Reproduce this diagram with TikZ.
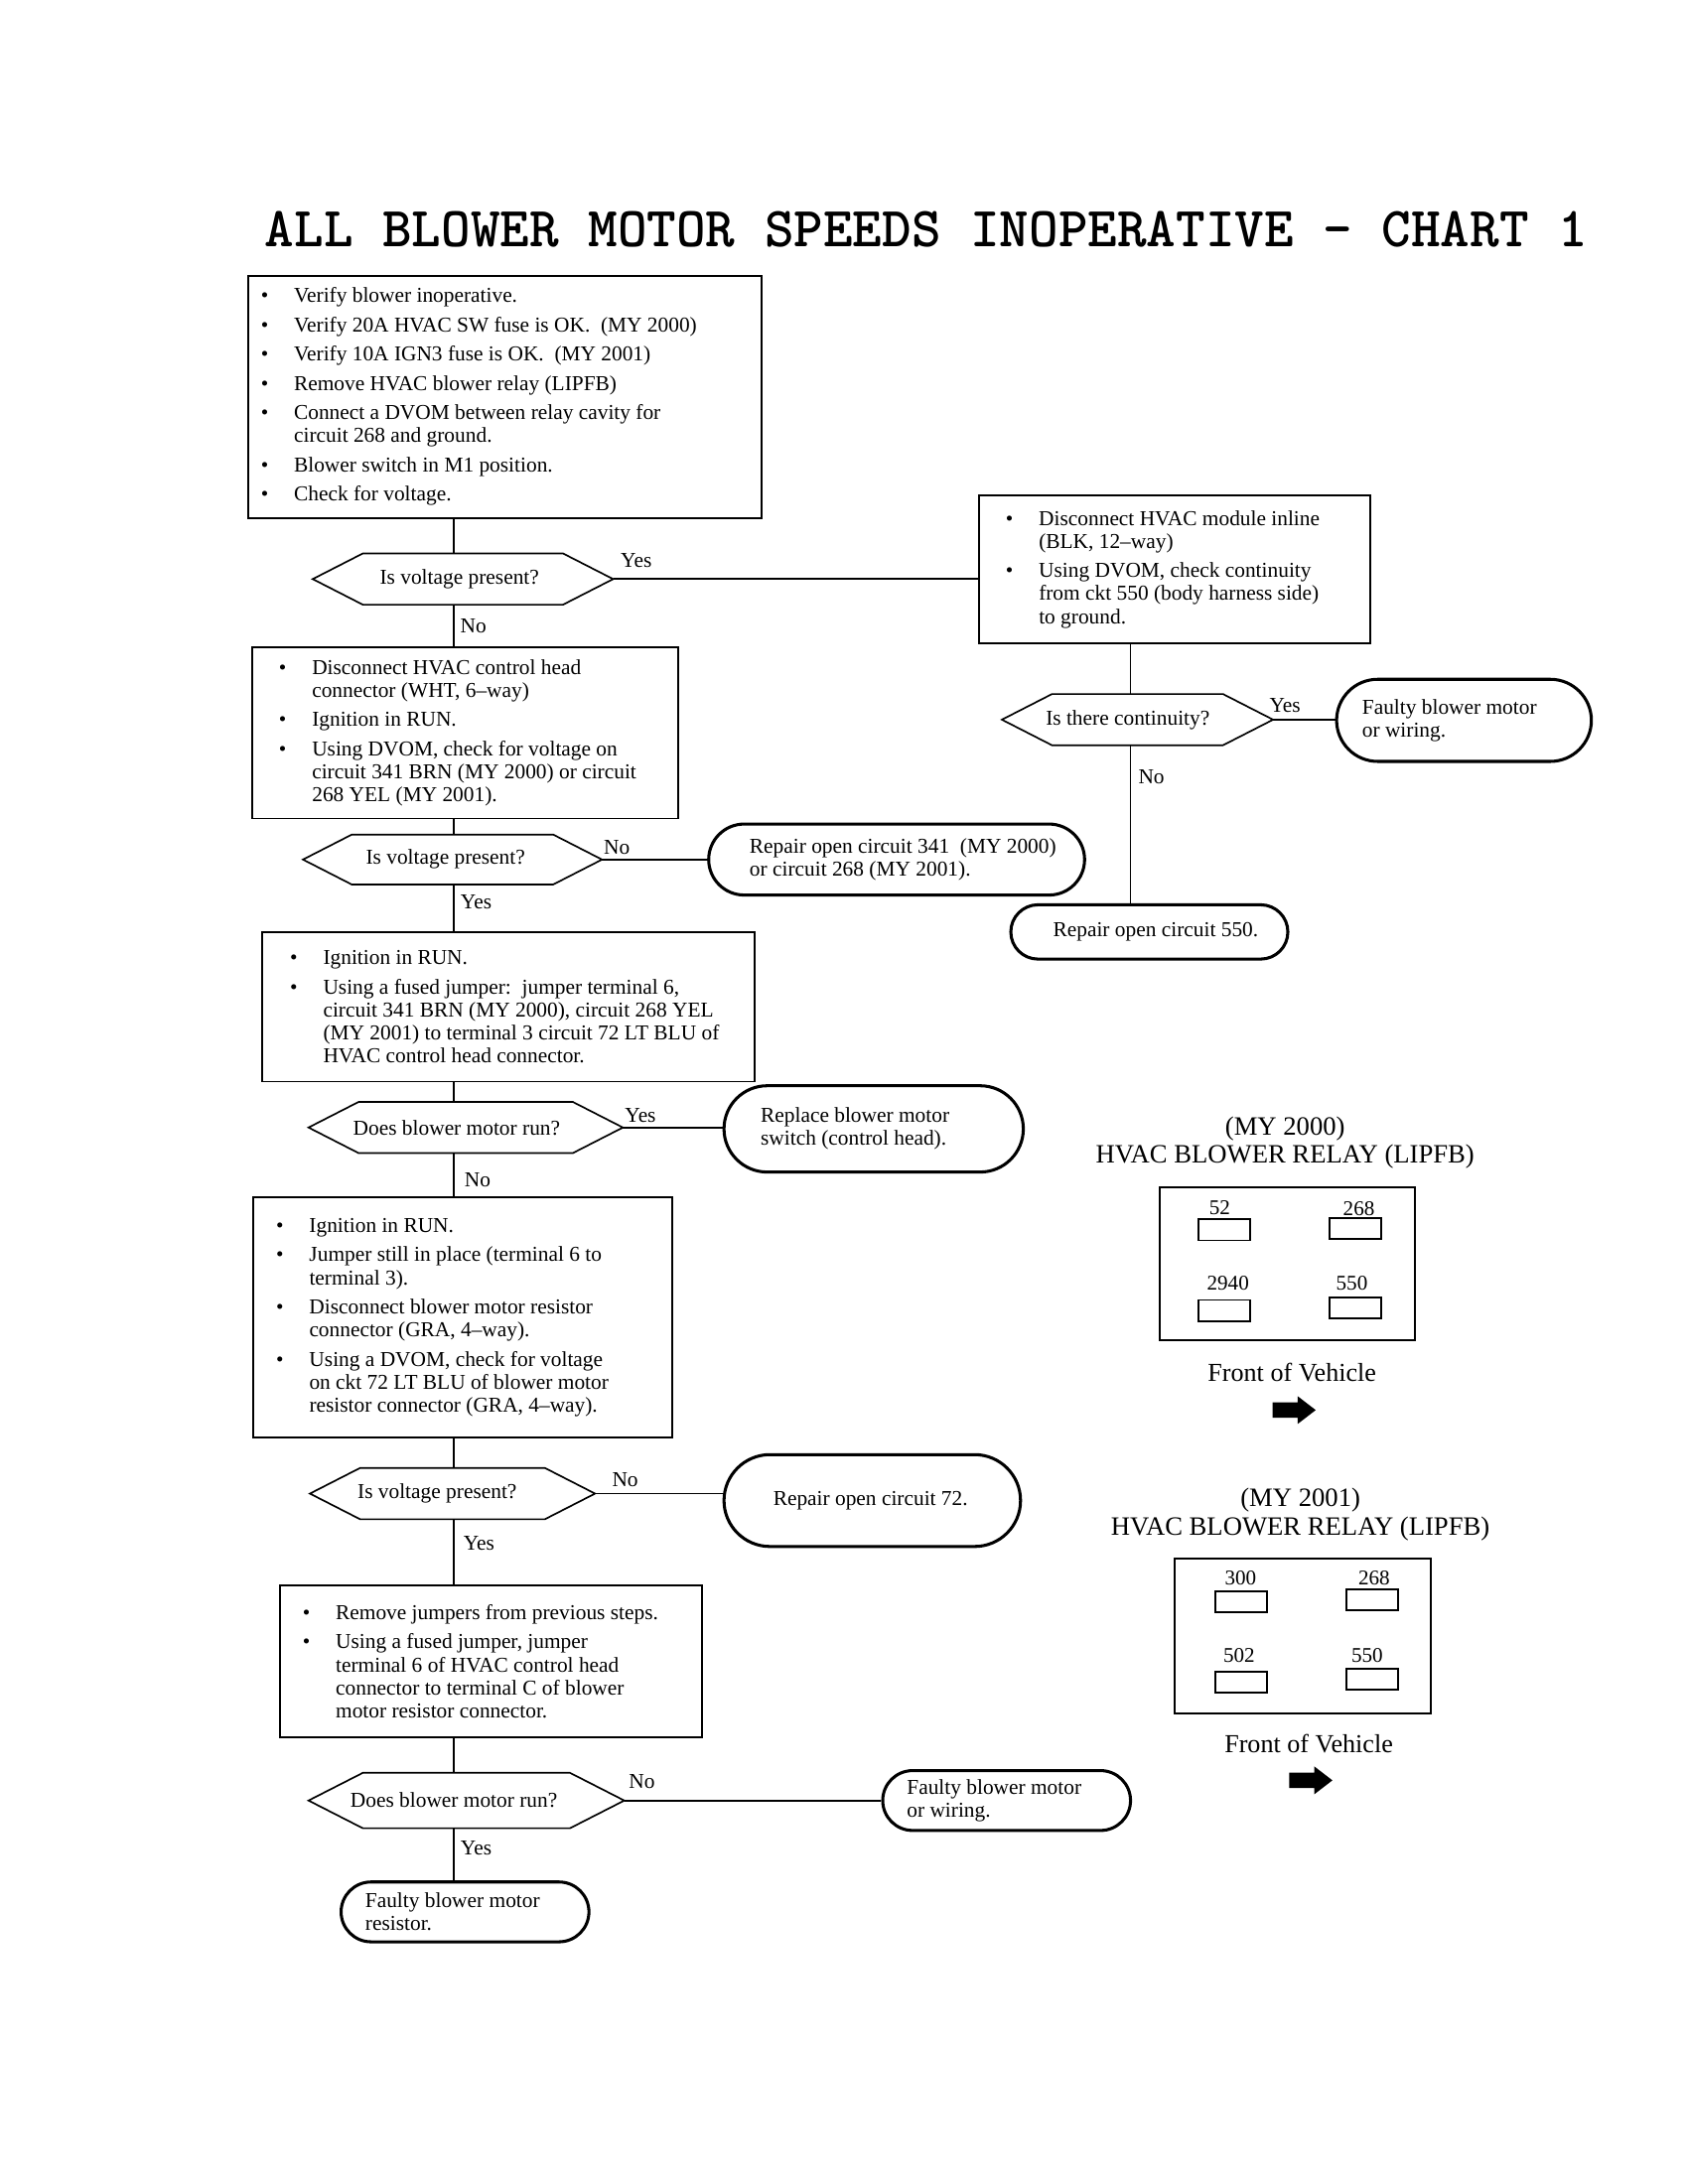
\documentclass[tikz,border=0pt]{standalone}
\usepackage{graphicx}
\usepackage{fontspec}
\setmainfont{Liberation Serif}
\usetikzlibrary{calc}
\newcommand\myu{0.505pt}
\newcommand\bi{\makebox[12pt][l]{\textbullet}}
\newcommand\ci{\hspace*{12pt}}
\newcommand\ig{2.3pt}
\tikzset{
  box/.style={draw, line width=0.7pt, inner sep=0pt},
  term/.style={draw, line width=1.1pt, inner sep=0pt},
  hold/.style={inner sep=0pt},
  decl/.style={draw, line width=0.6pt, line join=miter},
  conn/.style={line width=0.6pt},
  txt/.style={inner sep=0pt, align=left, font=\fontsize{7.7}{8.33}\selectfont},
  lbl/.style={inner sep=0pt, font=\fontsize{7.7}{8.33}\selectfont},
  rtitle/.style={inner sep=0pt, align=center, font=\fontsize{9.6}{10.1}\selectfont},
  fov/.style={inner sep=0pt, font=\fontsize{9.4}{10}\selectfont},
  slot/.style={draw, line width=0.6pt, inner sep=0pt, minimum width={37*\myu}, minimum height={15*\myu}},
  num/.style={inner sep=0pt, font=\fontsize{7.6}{8}\selectfont},
}
\newcommand\pbox[7]{%
  \node[box, minimum width={(#4-#2)*\myu}, minimum height={(#5-#3)*\myu}] (#1) at ({(#2+#4)/2},{(#3+#5)/2}) {};
  \node[txt, anchor=west] (#1t) at (#6,{(#3+#5)/2}) {#7};}
\newcommand\pterm[7]{%
  \node[term, minimum width={(#4-#2)*\myu}, minimum height={(#5-#3)*\myu}, rounded corners={(#5-#3)/2*\myu}] (#1) at ({(#2+#4)/2},{(#3+#5)/2}) {};
  \node[txt, anchor=west] (#1t) at (#6,{(#3+#5)/2}) {#7};}
\newcommand\pdec[7]{%
  \node[hold, minimum width={(#4-#2)*\myu}, minimum height={(#5-#3)*\myu}] (#1) at ({(#2+#4)/2},{(#3+#5)/2}) {};
  \draw[decl] (#1.west) -- ($(#1.north west)+({#5-#3},0)$) -- ($(#1.north east)-({#5-#3},0)$) -- (#1.east) -- ($(#1.south east)-({#5-#3},0)$) -- ($(#1.south west)+({#5-#3},0)$) -- cycle;
  \node[lbl] (#1t) at (#6,{(#3+#5)/2}) {#7};}
\begin{document}
\begin{tikzpicture}[x=0.505pt, y=-0.505pt]
\useasboundingbox (0,0) rectangle (1212,1569);
\coordinate (cL) at (326,0);
\coordinate (cR) at (812,0);

% title
\node[anchor=base west, inner sep=0pt] (title) at (190,177) {\resizebox{479.7pt}{12.8pt}{\ttfamily\bfseries ALL BLOWER MOTOR SPEEDS INOPERATIVE – CHART 1}};

% left column
\pbox{b1}{178}{198}{547}{372}{187}{%
\bi Verify blower inoperative.\\[\ig]
\bi Verify 20A HVAC SW fuse is OK.\ \ (MY 2000)\\[\ig]
\bi Verify 10A IGN3 fuse is OK.\ \ (MY 2001)\\[\ig]
\bi Remove HVAC blower relay (LIPFB)\\[\ig]
\bi Connect a DVOM between relay cavity for\\
\ci circuit 268 and ground.\\[\ig]
\bi Blower switch in M1 position.\\[\ig]
\bi Check for voltage.}
\pdec{d1}{225}{398}{440}{434}{330}{Is voltage present?}
\draw[conn] (b1.south -| cL) -- (d1.north -| cL);
\node[lbl] (y1) at (457,403) {Yes};

\pbox{r1}{703}{356}{984}{462}{722}{%
\bi Disconnect HVAC module inline\\
\ci (BLK, 12--way)\\[\ig]
\bi Using DVOM, check continuity\\
\ci from ckt 550 (body harness side)\\
\ci to ground.}
\draw[conn] (d1.east) -- (d1.east -| r1.west);

\node[lbl] (n1) at (340,450) {No};
\pbox{b2}{181}{465}{487}{588}{200}{%
\bi Disconnect HVAC control head\\
\ci connector (WHT, 6--way)\\[\ig]
\bi Ignition in RUN.\\[\ig]
\bi Using DVOM, check for voltage on\\
\ci circuit 341 BRN (MY 2000) or circuit\\
\ci 268 YEL (MY 2001).}
\draw[conn] (d1.south -| cL) -- (b2.north -| cL);

\pdec{d2}{218}{600}{432}{635}{320}{Is voltage present?}
\draw[conn] (b2.south -| cL) -- (d2.north -| cL);
\node[lbl] (n2) at (443,609) {No};
\pterm{t1}{509}{592}{779}{643}{538}{Repair open circuit 341\ \ (MY 2000)\\or circuit 268 (MY 2001).}
\draw[conn] (d2.east) -- (d2.east -| t1.west);
\node[lbl] (y2) at (342,648) {Yes};

\pbox{b3}{188}{670}{542}{777}{208}{%
\bi Ignition in RUN.\\[\ig]
\bi Using a fused jumper:\ \ jumper terminal 6,\\
\ci circuit 341 BRN (MY 2000), circuit 268 YEL\\
\ci (MY 2001) to terminal 3 circuit 72 LT BLU of\\
\ci HVAC control head connector.}
\draw[conn] (d2.south -| cL) -- (b3.north -| cL);

\pdec{d3}{222}{792}{447}{828}{328}{Does blower motor run?}
\draw[conn] (b3.south -| cL) -- (d3.north -| cL);
\node[lbl] (y3) at (460,801) {Yes};
\pterm{t2}{520}{780}{735}{842}{546}{Replace blower motor\\switch (control head).}
\draw[conn] (d3.east) -- (d3.east -| t2.west);
\node[lbl] (n3) at (343,848) {No};

\pbox{b4}{182}{860}{483}{1033}{198}{%
\bi Ignition in RUN.\\[\ig]
\bi Jumper still in place (terminal 6 to\\
\ci terminal 3).\\[\ig]
\bi Disconnect blower motor resistor\\
\ci connector (GRA, 4--way).\\[\ig]
\bi Using a DVOM, check for voltage\\
\ci on ckt 72 LT BLU of blower motor\\
\ci resistor connector (GRA, 4--way).}
\draw[conn] (d3.south -| cL) -- (b4.north -| cL);

\pdec{d4}{223}{1055}{427}{1091}{314}{Is voltage present?}
\draw[conn] (b4.south -| cL) -- (d4.north -| cL);
\node[lbl] (n4) at (449,1063) {No};
\pterm{t3}{520}{1045}{733}{1111}{555}{Repair open circuit 72.}
\draw[conn] (d4.east) -- (d4.east -| t3.west);
\node[lbl] (y4) at (344,1109) {Yes};

\pbox{b5}{201}{1139}{504}{1248}{217}{%
\bi Remove jumpers from previous steps.\\[\ig]
\bi Using a fused jumper, jumper\\
\ci terminal 6 of HVAC control head\\
\ci connector to terminal C of blower\\
\ci motor resistor connector.}
\draw[conn] (d4.south -| cL) -- (b5.north -| cL);

\pdec{d5}{222}{1274}{448}{1313}{326}{Does blower motor run?}
\draw[conn] (b5.south -| cL) -- (d5.north -| cL);
\node[lbl] (n5) at (461,1280) {No};
\pterm{t4}{634}{1272}{812}{1315}{651}{Faulty blower motor\\or wiring.}
\draw[conn] (d5.east) -- (d5.east -| t4.west);
\node[lbl] (y5) at (342,1328) {Yes};
\pterm{t5}{245}{1352}{423}{1395}{262}{Faulty blower motor\\resistor.}
\draw[conn] (d5.south -| cL) -- (t5.north -| cL);

% right column
\pdec{dr}{720}{499}{914}{535}{810}{Is there continuity?}
\draw[conn] (r1.south -| cR) -- (dr.north -| cR);
\node[lbl] (yr) at (923,507) {Yes};
\pterm{t6}{960}{488}{1143}{547}{978}{Faulty blower motor\\or wiring.}
\draw[conn] (dr.east) -- (dr.east -| t6.west);
\node[lbl] (nr) at (827,558) {No};
\pterm{t7}{726}{650}{925}{689}{756}{Repair open circuit 550.}
\draw[conn] (dr.south -| cR) -- (t7.north -| cR);

% relay MY 2000
\node[rtitle] (rt1) at (923,821) {(MY 2000)\\HVAC BLOWER RELAY (LIPFB)};
\node[box, minimum width={183*\myu}, minimum height={110*\myu}] (rl1) at (924.5,908) {};
\node[slot] (s1a) at (879.5,883.5) {};
\node[slot] (s1b) at (973.5,882.5) {};
\node[slot] (s1c) at (879.5,941.5) {};
\node[slot] (s1d) at (973.5,939.5) {};
\node[num] (n1a) at (876,868) {52};
\node[num] (n1b) at (976,868) {268};
\node[num] (n1c) at (882,922) {2940};
\node[num] (n1d) at (971,922) {550};
\node[fov] (f1) at (928,986) {Front of Vehicle};
\fill (914,1007.5) -- (932,1007.5) -- (932,1003) -- (945,1013) -- (932,1023) -- (932,1018.5) -- (914,1018.5) -- cycle;

% relay MY 2001
\node[rtitle] (rt2) at (934,1088) {(MY 2001)\\HVAC BLOWER RELAY (LIPFB)};
\node[box, minimum width={184*\myu}, minimum height={111*\myu}] (rl2) at (936,1175.5) {};
\node[slot] (s2a) at (891.5,1150.5) {};
\node[slot] (s2b) at (985.5,1149.5) {};
\node[slot] (s2c) at (891.5,1208.5) {};
\node[slot] (s2d) at (985.5,1206.5) {};
\node[num] (n2a) at (891,1134) {300};
\node[num] (n2b) at (987,1134) {268};
\node[num] (n2c) at (890,1189) {502};
\node[num] (n2d) at (982,1189) {550};
\node[fov] (f2) at (940,1253) {Front of Vehicle};
\fill (926,1273.5) -- (944,1273.5) -- (944,1269) -- (957,1279) -- (944,1289) -- (944,1284.5) -- (926,1284.5) -- cycle;
\end{tikzpicture}
\end{document}
